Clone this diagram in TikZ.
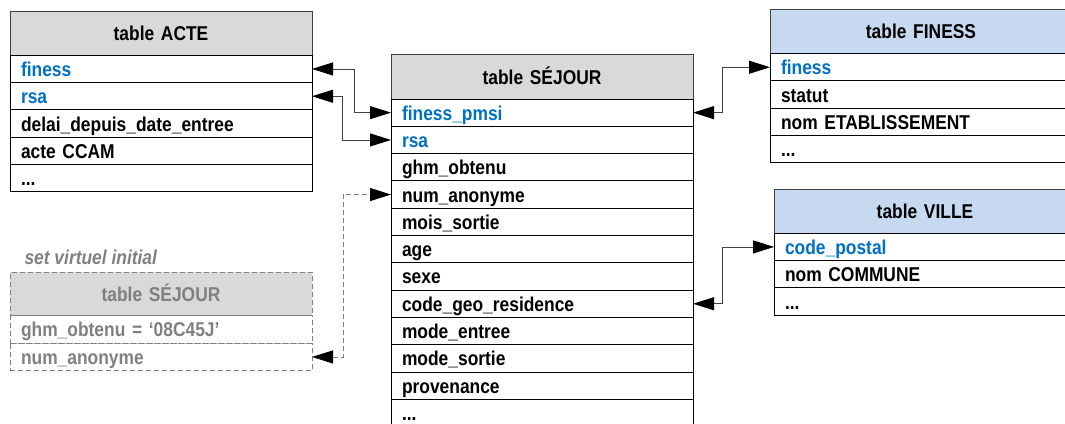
\documentclass[tikz,border=0pt]{standalone}
\usepackage{fontspec}
\setmainfont{Liberation Sans}[FakeStretch=0.87]
\usepackage{tikz}
\usetikzlibrary{positioning, arrows.meta}
\usepackage{xcolor}
\definecolor{xgray}{HTML}{D9D9D9}
\definecolor{xblue}{HTML}{C6D9F1}
\definecolor{xkey}{HTML}{0070C0}
\definecolor{xline}{HTML}{404040}
\definecolor{xvirt}{HTML}{808080}
\tikzset{
	tblhead/.style={draw=xline, line width=1pt, fill=xgray, outer sep=0pt, anchor=north west,
		minimum height=44.3pt, inner xsep=11pt, inner ysep=0pt, text width=280pt, align=center,
		text height=16pt, text depth=1pt},
	tblrow/.style={draw=black, line width=1pt, outer sep=0pt, minimum height=27.3pt,
		inner xsep=11pt, inner ysep=0pt, text width=280pt, align=left, text height=16pt, text depth=1pt},
	key/.style={text=xkey},
	virt/.style={draw=xvirt, text=xvirt, dash pattern=on 5pt off 3pt},
	link/.style={draw=xline, line width=0.9pt,
		{Triangle[length=21pt, width=13pt, color=black]}-{Triangle[length=21pt, width=13pt, color=black]}},
	vlink/.style={link, draw=xvirt, dash pattern=on 5pt off 3pt},
}

\begin{document}
\begin{tikzpicture}[x=1pt, y=-1pt, font=\fontsize{20}{24}\selectfont\bfseries]
	\useasboundingbox (0,0) rectangle (1065,423);
	% ACTE
	\node[tblhead] (acte) at (10,11) {table ACTE};
	\node[tblrow, key, below=0pt of acte] (finess_a) {finess};
	\node[tblrow, key, below=0pt of finess_a] (rsa_a) {rsa};
	\node[tblrow, below=0pt of rsa_a] (delai_a) {delai\_depuis\_date\_entree};
	\node[tblrow, below=0pt of delai_a] (ccam_a) {acte CCAM};
	\node[tblrow, below=0pt of ccam_a] (etc_a) {...};

	% SEJOUR
	\node[tblhead] (sejour) at (391,54.7) {table SÉJOUR};
	\node[tblrow, key, below=0pt of sejour] (finess_s) {finess\_pmsi};
	\node[tblrow, key, below=0pt of finess_s] (rsa_s) {rsa};
	\node[tblrow, below=0pt of rsa_s] (ghm_s) {ghm\_obtenu};
	\node[tblrow, below=0pt of ghm_s] (num_s) {num\_anonyme};
	\node[tblrow, below=0pt of num_s] (mois_s) {mois\_sortie};
	\node[tblrow, below=0pt of mois_s] (age_s) {age};
	\node[tblrow, below=0pt of age_s] (sexe_s) {sexe};
	\node[tblrow, below=0pt of sexe_s] (geo_s) {code\_geo\_residence};
	\node[tblrow, below=0pt of geo_s] (entree_s) {mode\_entree};
	\node[tblrow, below=0pt of entree_s] (sortie_s) {mode\_sortie};
	\node[tblrow, below=0pt of sortie_s] (prov_s) {provenance};
	\node[tblrow, below=0pt of prov_s] (etc_s) {...};

	% FINESS
	\node[tblhead, fill=xblue] (finess) at (770,9.3) {table FINESS};
	\node[tblrow, key, below=0pt of finess] (finess_f) {finess};
	\node[tblrow, below=0pt of finess_f] (statut_f) {statut};
	\node[tblrow, below=0pt of statut_f] (nom_f) {nom ETABLISSEMENT};
	\node[tblrow, below=0pt of nom_f] (etc_f) {...};

	% VILLE
	\node[tblhead, fill=xblue] (ville) at (774,189) {table VILLE};
	\node[tblrow, key, below=0pt of ville] (cp_v) {code\_postal};
	\node[tblrow, below=0pt of cp_v] (commune_v) {nom COMMUNE};
	\node[tblrow, below=0pt of commune_v] (etc_v) {...};

	% set virtuel
	\node[anchor=base west, text=xvirt, font=\fontsize{20}{24}\selectfont\bfseries\itshape] (vlbl) at (21,264) {set virtuel initial};
	\node[tblhead, virt, minimum height=42.7pt] (vsejour) at (10,272.3) {table SÉJOUR};
	\node[tblrow, virt, minimum height=28.3pt, below=0pt of vsejour] (ghm_v) {ghm\_obtenu = ‘08C45J’};
	\node[tblrow, virt, below=0pt of ghm_v] (num_v) {num\_anonyme};

	% liens
	\draw[link] (finess_a.east) -- ++(42.3,0) |- (finess_s.west);
	\draw[link] (rsa_a.east) -- ++(30.3,0) |- (rsa_s.west);
	\draw[vlink] (num_v.east) -- ++(31.3,0) |- (num_s.west);
	\draw[link] (finess_s.east) -- ++(29,0) |- (finess_f.west);
	\draw[link] (geo_s.east) -- ++(29,0) |- (cp_v.west);
\end{tikzpicture}
\end{document}
